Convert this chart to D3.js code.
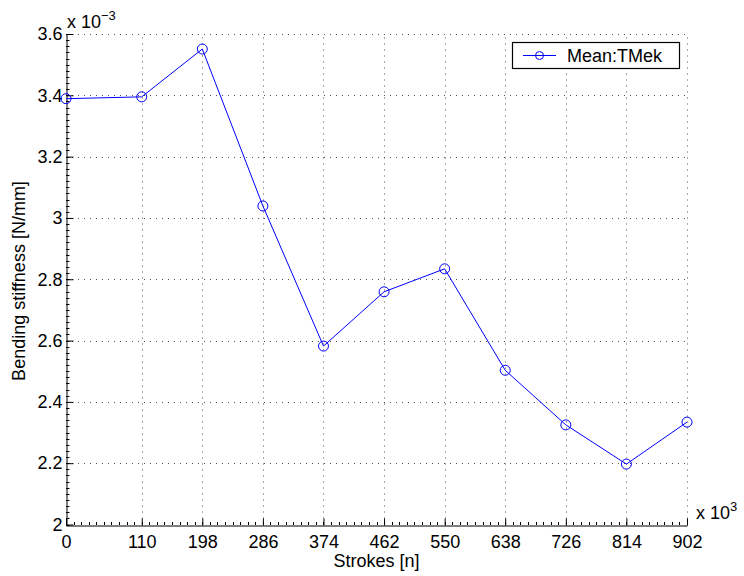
<!DOCTYPE html>
<html>
<head>
<meta charset="utf-8">
<script src="https://cdn.jsdelivr.net/npm/d3@7"></script>
<style>
  body { margin: 0; background: #fff; }
  text { font-family: "Liberation Sans", Arial, sans-serif; fill: #000; }
</style>
</head>
<body>
<script>
// Data (x in thousands of strokes, y in 1e-3 N/mm)

const strokes = [0, 110, 198, 286, 374, 462, 550, 638, 726, 814, 902];
const stiffness = [3.389, 3.395, 3.551, 3.039, 2.582, 2.759, 2.834, 2.503, 2.325, 2.197, 2.334];
const xTicks = [0, 110, 198, 286, 374, 462, 550, 638, 726, 814, 902];
const yTicks = [2, 2.2, 2.4, 2.6, 2.8, 3, 3.2, 3.4, 3.6];
const seriesName = "Mean:TMek";

// Dimensions

const width = 744;
const height = 576;
const plotLeft = 66, plotRight = 687, plotTop = 34, plotBottom = 524.5;
const fontSize = "18px";

const svg = d3.select("body")
  .append("svg")
  .attr("width", width)
  .attr("height", height);

const x = d3.scaleLinear().domain([0, 902]).range([plotLeft, plotRight]);
const y = d3.scaleLinear().domain([2, 3.6]).range([plotBottom, plotTop]);

// grid

const grid = svg.append("g")
  .attr("stroke", "#555")
  .attr("stroke-width", 1)
  .attr("stroke-dasharray", "1,5");

grid.selectAll(".gx")
  .data(xTicks.slice(1))
  .enter()
  .append("line")
  .attr("x1", d => Math.round(x(d)) + 0.5)
  .attr("x2", d => Math.round(x(d)) + 0.5)
  .attr("y1", plotBottom)
  .attr("y2", plotTop);

grid.selectAll(".gy")
  .data(yTicks.slice(1))
  .enter()
  .append("line")
  .attr("y1", d => Math.round(y(d)) + 0.5)
  .attr("y2", d => Math.round(y(d)) + 0.5)
  .attr("x1", plotLeft)
  .attr("x2", plotRight);

// axes (left and bottom only)

const xAxis = svg.append("g")
  .attr("transform", `translate(0,${Math.round(plotBottom) + 0.5})`)
  .call(d3.axisBottom(x).tickValues(xTicks).tickSizeInner(-7).tickSizeOuter(0).tickPadding(10).tickFormat(d3.format("d")));

const yAxis = svg.append("g")
  .attr("transform", `translate(${plotLeft + 0.5},0)`)
  .call(d3.axisLeft(y).tickValues(yTicks).tickSizeInner(-7).tickSizeOuter(0).tickPadding(4).tickFormat(d => d3.format("~g")(d)));

[xAxis, yAxis].forEach(a => {
  a.select(".domain").attr("stroke", "#000");
  a.selectAll(".tick line").attr("stroke", "#000");
  a.selectAll("text").style("font-size", fontSize).attr("fill", "#000");
});

// minor ticks

const xMinor = d3.range(0, 903, 11);
svg.append("g").selectAll("line")
  .data(xMinor)
  .enter()
  .append("line")
  .attr("x1", d => Math.round(x(d)) + 0.5)
  .attr("x2", d => Math.round(x(d)) + 0.5)
  .attr("y1", Math.round(plotBottom))
  .attr("y2", Math.round(plotBottom) - 3)
  .attr("stroke", "#000");

const yMinor = d3.range(2, 3.601, 0.02);
svg.append("g").selectAll("line")
  .data(yMinor)
  .enter()
  .append("line")
  .attr("y1", d => Math.round(y(d)) + 0.5)
  .attr("y2", d => Math.round(y(d)) + 0.5)
  .attr("x1", plotLeft)
  .attr("x2", plotLeft + 3.5)
  .attr("stroke", "#000");

// exponent labels

const ex = svg.append("text")
  .attr("x", 67)
  .attr("y", 28)
  .style("font-size", fontSize);
ex.append("tspan").text("x 10");
ex.append("tspan").attr("dy", -8).style("font-size", "13px").text("\u22123");

const ex2 = svg.append("text")
  .attr("x", 696)
  .attr("y", 519)
  .style("font-size", fontSize);
ex2.append("tspan").text("x 10");
ex2.append("tspan").attr("dy", -8).style("font-size", "13px").text("3");

// axis titles

svg.append("text")
  .attr("x", (plotLeft + plotRight) / 2)
  .attr("y", 567)
  .attr("text-anchor", "middle")
  .style("font-size", fontSize)
  .text("Strokes [n]");

svg.append("text")
  .attr("transform", `translate(25,281) rotate(-90)`)
  .attr("text-anchor", "middle")
  .style("font-size", fontSize)
  .text("Bending stiffness [N/mm]");

// series

const data = strokes.map((s, i) => ({ x: s, y: stiffness[i] }));

svg.append("path")
  .datum(data)
  .attr("fill", "none")
  .attr("stroke", "#0000ff")
  .attr("stroke-width", 1)
  .attr("d", d3.line().x(d => x(d.x)).y(d => y(d.y)));

svg.selectAll(".dot")
  .data(data)
  .enter()
  .append("circle")
  .attr("cx", d => x(d.x))
  .attr("cy", d => y(d.y))
  .attr("r", 5)
  .attr("fill", "none")
  .attr("stroke", "#0000ff")
  .attr("stroke-width", 1);

// legend

const lg = svg.append("g");
lg.append("rect")
  .attr("x", 512.5)
  .attr("y", 42.5)
  .attr("width", 167)
  .attr("height", 26)
  .attr("fill", "#fff")
  .attr("stroke", "#000")
  .attr("stroke-width", 1.2);
lg.append("line")
  .attr("x1", 523).attr("x2", 556)
  .attr("y1", 55.5).attr("y2", 55.5)
  .attr("stroke", "#0000ff");
lg.append("circle")
  .attr("cx", 539.5).attr("cy", 55.5).attr("r", 4)
  .attr("fill", "none").attr("stroke", "#0000ff");
lg.append("text")
  .attr("x", 567)
  .attr("y", 62)
  .style("font-size", fontSize)
  .text(seriesName);
</script>
</body>
</html>
